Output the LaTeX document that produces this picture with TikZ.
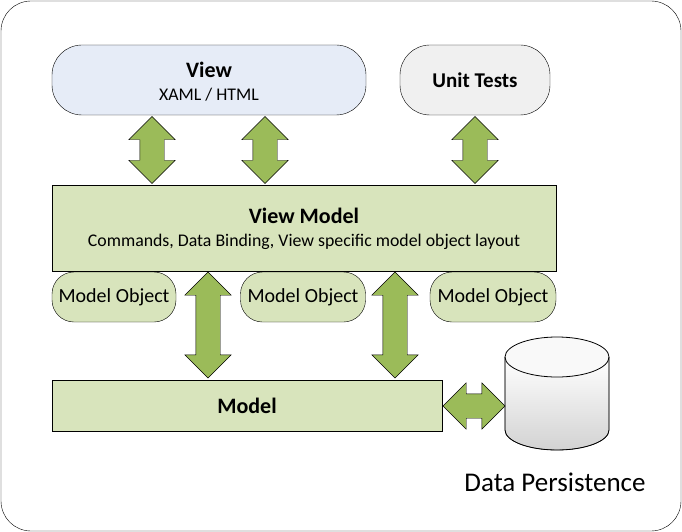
\documentclass[tikz,border=0pt]{standalone}
\usepackage{fontspec}
\setmainfont{Carlito}
\usetikzlibrary{shapes.arrows,shapes.geometric}
\definecolor{viewblue}{HTML}{E6ECF7}
\definecolor{testgray}{HTML}{F0F0F0}
\definecolor{vmgreen}{HTML}{D8E4BC}
\definecolor{arrgreen}{HTML}{9BBB59}
\begin{document}
\begin{tikzpicture}[x=1pt, y=-1pt,
    box/.style={draw, fill=vmgreen, rectangle, inner sep=0pt},
    pill/.style={draw, rounded corners=22pt, inner sep=0pt},
    dbl/.style={draw, fill=arrgreen, double arrow, inner xsep=0pt, inner ysep=12pt,
        double arrow head extend=11pt, double arrow tip angle=90},
    title/.style={font=\fontsize{22}{26}\selectfont\bfseries},
    sub/.style={font=\fontsize{17.8}{21}\selectfont}]
    \useasboundingbox (0,0) rectangle (682,532);
    \draw [rounded corners=30pt] (1,1) rectangle (681,531);
    % layers
    \node (view) [pill, fill=viewblue, minimum width=314pt, minimum height=70pt, rounded corners=30pt] at (209,80) {};
    \node at (209,70) [title] {View};
    \node at (209,95) [sub] {XAML / HTML};
    \node (tests) [pill, fill=testgray, minimum width=150pt, minimum height=70pt, rounded corners=30pt] at (475,80) {};
    \node at (475,80) [font=\fontsize{21}{24}\selectfont\bfseries] {Unit Tests};
    \node (vm) [box, minimum width=504pt, minimum height=86pt] at (304,228) {};
    \node at (304,216) [title] {View Model};
    \node at (304,242) [sub] {Commands, Data Binding, View specific model object layout};
    \node (mo1) [pill, fill=vmgreen, minimum width=124pt, minimum height=50pt, font=\fontsize{20}{24}\selectfont] at (114,297) {Model Object};
    \node (mo2) [pill, fill=vmgreen, minimum width=125pt, minimum height=50pt, font=\fontsize{20}{24}\selectfont] at (303,297) {Model Object};
    \node (mo3) [pill, fill=vmgreen, minimum width=126pt, minimum height=50pt, font=\fontsize{20}{24}\selectfont] at (493,297) {Model Object};
    \node (model) [box, minimum width=390pt, minimum height=51pt] at (247,406) [title] {Model};
    % data store
    \draw [top color=white, bottom color=gray!35] (505,357) -- (505,430) arc[start angle=180, end angle=360, x radius=52pt, y radius=20pt] -- (609,357);
    \draw [fill=white!95!gray, line width=0.8pt] (557,357) ellipse [x radius=52pt, y radius=20pt];
    \draw [line width=0.8pt] (505,357) -- (505,430) arc[start angle=180, end angle=360, x radius=52pt, y radius=20pt] -- (609,357);
    \node (dp) at (555,482) [font=\fontsize{27}{32}\selectfont] {Data Persistence};
    % links
    \node (a1) [dbl, rotate=90, minimum height=67pt] at (152,150) {};
    \node (a2) [dbl, rotate=90, minimum height=67pt] at (265,150) {};
    \node (a3) [dbl, rotate=90, minimum height=67pt] at (475,150) {};
    \node (a4) [dbl, rotate=90, minimum height=106pt] at (208,325) {};
    \node (a5) [dbl, rotate=90, minimum height=106pt] at (395,325) {};
    \node (a6) [dbl, minimum height=62pt] at (474,406) {};
\end{tikzpicture}
\end{document}
